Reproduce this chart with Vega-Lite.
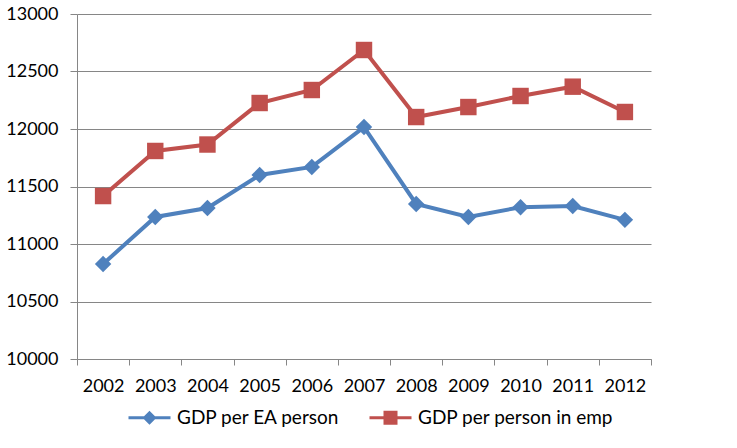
{
  "$schema": "https://vega.github.io/schema/vega-lite/v6.json",
  "autosize": {"type": "none"},
  "padding": {"left": 77, "top": 14, "right": 86, "bottom": 89},
  "width": 574,
  "height": 345,
  "background": "white",
  "data": {
    "values": [
      {"year": "2002", "series": "GDP per EA person", "value": 10826},
      {"year": "2003", "series": "GDP per EA person", "value": 11235},
      {"year": "2004", "series": "GDP per EA person", "value": 11313},
      {"year": "2005", "series": "GDP per EA person", "value": 11600},
      {"year": "2006", "series": "GDP per EA person", "value": 11670},
      {"year": "2007", "series": "GDP per EA person", "value": 12017},
      {"year": "2008", "series": "GDP per EA person", "value": 11348},
      {"year": "2009", "series": "GDP per EA person", "value": 11235},
      {"year": "2010", "series": "GDP per EA person", "value": 11320},
      {"year": "2011", "series": "GDP per EA person", "value": 11330},
      {"year": "2012", "series": "GDP per EA person", "value": 11210},
      {"year": "2002", "series": "GDP per person in emp", "value": 11417},
      {"year": "2003", "series": "GDP per person in emp", "value": 11809},
      {"year": "2004", "series": "GDP per person in emp", "value": 11865},
      {"year": "2005", "series": "GDP per person in emp", "value": 12226},
      {"year": "2006", "series": "GDP per person in emp", "value": 12339},
      {"year": "2007", "series": "GDP per person in emp", "value": 12687},
      {"year": "2008", "series": "GDP per person in emp", "value": 12104},
      {"year": "2009", "series": "GDP per person in emp", "value": 12191},
      {"year": "2010", "series": "GDP per person in emp", "value": 12287},
      {"year": "2011", "series": "GDP per person in emp", "value": 12368},
      {"year": "2012", "series": "GDP per person in emp", "value": 12148}
    ]
  },
  "encoding": {
    "x": {
      "field": "year",
      "type": "ordinal",
      "title": null,
      "scale": {"type": "band", "paddingInner": 0, "paddingOuter": 0},
      "axis": {
        "labelAngle": 0,
        "tickBand": "extent",
        "tickSize": 6,
        "tickColor": "#868686",
        "domainColor": "#868686",
        "labelPadding": 12,
        "grid": false
      }
    },
    "y": {
      "field": "value",
      "type": "quantitative",
      "title": null,
      "scale": {"domain": [10000, 13000], "nice": false, "zero": false},
      "axis": {
        "values": [10000, 10500, 11000, 11500, 12000, 12500, 13000],
        "format": "d",
        "tickSize": 7,
        "tickColor": "#868686",
        "domainColor": "#868686",
        "gridColor": "#868686",
        "labelPadding": 12
      }
    }
  },
  "layer": [
    {
      "mark": {"type": "line", "strokeWidth": 4},
      "encoding": {
        "color": {
          "field": "series",
          "type": "nominal",
          "scale": {"domain": ["GDP per EA person", "GDP per person in emp"], "range": ["#4F81BD", "#C0504D"]},
          "legend": null
        }
      }
    },
    {
      "mark": {"type": "point", "filled": true, "opacity": 1, "size": 270},
      "encoding": {
        "color": {
          "field": "series",
          "type": "nominal",
          "scale": {"domain": ["GDP per EA person", "GDP per person in emp"], "range": ["#4F81BD", "#C0504D"]},
          "legend": null
        },
        "shape": {
          "field": "series",
          "type": "nominal",
          "scale": {"domain": ["GDP per EA person", "GDP per person in emp"], "range": ["diamond", "square"]},
          "legend": null
        }
      }
    },
    {
      "mark": {"type": "point", "filled": true, "opacity": 0, "size": 196},
      "encoding": {
        "color": {
          "field": "series",
          "type": "nominal",
          "scale": {"domain": ["GDP per EA person", "GDP per person in emp"], "range": ["#4F81BD", "#C0504D"]},
          "legend": {
            "title": null,
            "orient": "none",
            "direction": "horizontal",
            "legendX": 63,
            "legendY": 394,
            "symbolOpacity": 1,
            "symbolSize": 196,
            "labelOffset": 18,
            "columnPadding": 26,
            "labelFontSize": 19,
            "labelFont": "Lato",
            "labelColor": "black",
            "labelLimit": 400
          }
        },
        "shape": {
          "field": "series",
          "type": "nominal",
          "scale": {
            "domain": ["GDP per EA person", "GDP per person in emp"],
            "range": [
              "M-3,-0.22H3V0.22H-3Z M0,-1L1,0L0,1L-1,0Z",
              "M-3,-0.22H3V0.22H-3Z M-1,-1H1V1H-1Z"
            ]
          },
          "legend": {
            "title": null,
            "orient": "none",
            "direction": "horizontal",
            "legendX": 63,
            "legendY": 394,
            "symbolOpacity": 1,
            "symbolSize": 196,
            "labelOffset": 18,
            "columnPadding": 26,
            "labelFontSize": 19,
            "labelFont": "Lato",
            "labelColor": "black",
            "labelLimit": 400
          }
        }
      }
    }
  ],
  "resolve": {"scale": {"color": "independent", "shape": "independent"}},
  "config": {
    "view": {"stroke": null},
    "font": "Lato",
    "axis": {"labelFont": "Lato", "labelFontSize": 18, "labelColor": "black", "gridWidth": 1, "domainWidth": 1}
  }
}
